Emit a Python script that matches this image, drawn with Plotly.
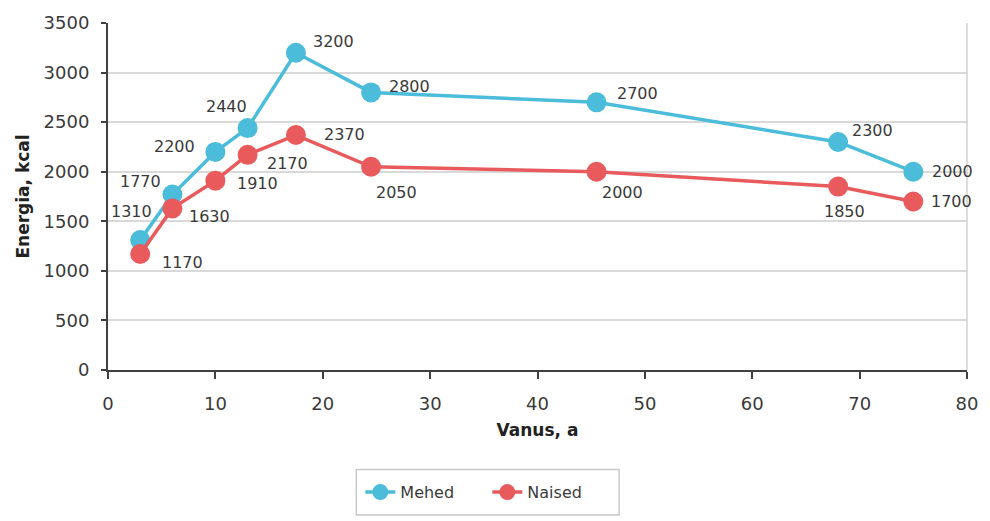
import plotly.graph_objects as go

# Age groups (years) and daily energy needs (kcal)
vanus = [3, 6, 10, 13, 17.5, 24.5, 45.5, 68, 75]
mehed = [1310, 1770, 2200, 2440, 3200, 2800, 2700, 2300, 2000]
naised = [1170, 1630, 1910, 2170, 2370, 2050, 2000, 1850, 1700]

# Label offsets in pixels (dx right, dy up) for each point's value label
mehed_offsets = [(-9, 29), (-32, 13), (-41, 5), (-21, 22), (38, 11),
                 (38, 6), (41, 9), (34, 11), (39, 0)]
naised_offsets = [(42, -8), (37, -8), (42, -3), (40, -9), (49, 1),
                  (25, -26), (26, -21), (6, -25), (38, 0)]

BLUE = "#4bbcda"
RED = "#e95a5d"
FONT = "DejaVu Sans"
TEXT = "#3a3a3a"

fig = go.Figure()
fig.add_trace(go.Scatter(
    x=vanus, y=mehed, name="Mehed", mode="lines+markers",
    line=dict(color=BLUE, width=3.5),
    marker=dict(color=BLUE, size=20),
))
fig.add_trace(go.Scatter(
    x=vanus, y=naised, name="Naised", mode="lines+markers",
    line=dict(color=RED, width=3.5),
    marker=dict(color=RED, size=20),
))

for series, offs in ((mehed, mehed_offsets), (naised, naised_offsets)):
    for xv, yv, (dx, dy) in zip(vanus, series, offs):
        fig.add_annotation(
            x=xv, y=yv, text=str(yv), showarrow=False,
            xshift=dx, yshift=dy,
            font=dict(family=FONT, size=16, color=TEXT),
        )

# light frame on the right side of the plot area
fig.add_shape(type="line", xref="x domain", yref="y domain",
              x0=1, x1=1, y0=0, y1=1,
              line=dict(color="#d0d0d0", width=1.5))

# legend frame
fig.add_shape(type="rect", xref="paper", yref="paper",
              x0=0.289, x1=0.595, y0=-0.418, y1=-0.2865,
              line=dict(color="#c8c8c8", width=1.5), fillcolor="rgba(0,0,0,0)")

fig.update_layout(
    width=990, height=521,
    margin=dict(l=108, r=17, t=23, b=149),
    paper_bgcolor="white", plot_bgcolor="white",
    font=dict(family=FONT, color=TEXT),
    showlegend=True,
    legend=dict(
        orientation="h", x=0.4416, xanchor="center", y=-0.352, yanchor="middle",
        borderwidth=0, bgcolor="rgba(0,0,0,0)",
        entrywidth=82, entrywidthmode="pixels",
        font=dict(family=FONT, size=16, color=TEXT),
    ),
    xaxis=dict(
        range=[0, 80], dtick=10, tick0=0,
        showgrid=False, zeroline=False,
        showline=True, linecolor="#404040", linewidth=2,
        ticks="outside", ticklen=7, tickwidth=2, tickcolor="#404040",
        tickfont=dict(family=FONT, size=18, color=TEXT),
        ticklabelstandoff=9,
        title=dict(text="<b>Vanus, a</b>", font=dict(family=FONT, size=17, color="#222222"),
                   standoff=12),
    ),
    yaxis=dict(
        range=[0, 3500], dtick=500, tick0=0,
        showgrid=True, gridcolor="#d9d9d9", gridwidth=1.5,
        zeroline=False,
        showline=True, linecolor="#404040", linewidth=2,
        ticks="outside", ticklen=5, tickwidth=2, tickcolor="#404040",
        tickfont=dict(family=FONT, size=18, color=TEXT),
        ticklabelstandoff=8,
        title=dict(text="<b>Energia, kcal</b>", font=dict(family=FONT, size=17, color="#222222"),
                   standoff=10),
    ),
)

fig.write_html("out.html")
